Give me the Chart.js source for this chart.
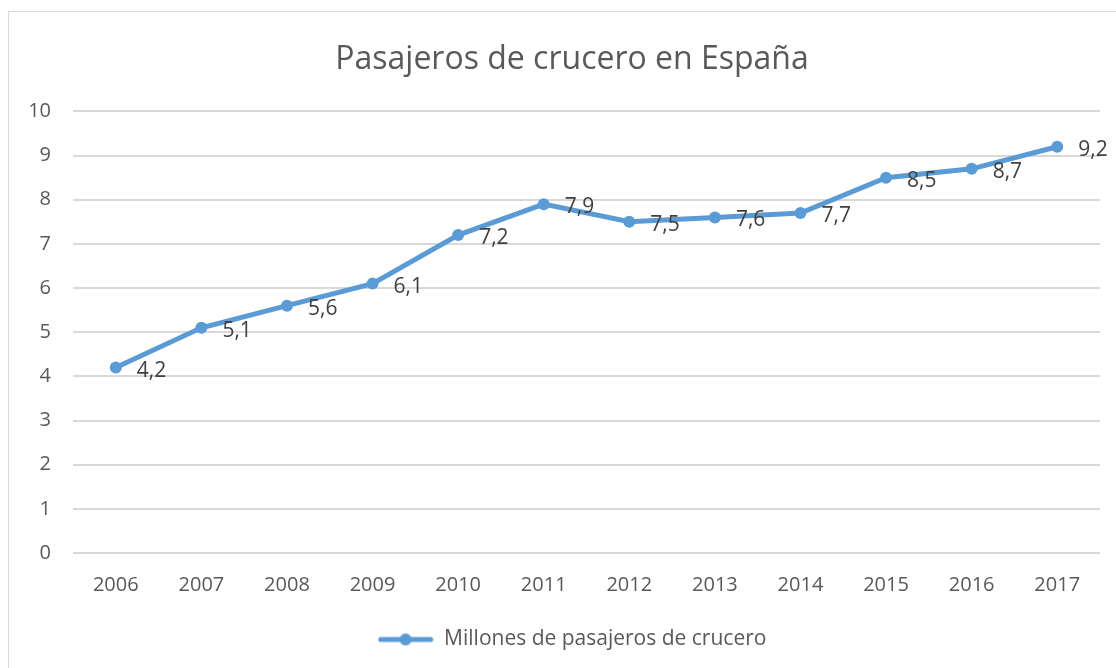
<!DOCTYPE html>
<html>
<head>
<meta charset="utf-8">
<script src="https://cdn.jsdelivr.net/npm/chart.js@4"></script>
<style>
  body { margin: 0; background: #fff; overflow: hidden; }
  #frame { position: absolute; left: 8px; top: 11px; width: 1200px; height: 800px; border: 1px solid #d9d9d9; }
  #wrap { position: absolute; left: 0; top: 0; width: 1116px; height: 668px; }
</style>
</head>
<body>
<div id="frame"></div>
<div id="wrap"><canvas id="chart1" width="1116" height="668"></canvas></div>
<script>
const years = ['2006','2007','2008','2009','2010','2011','2012','2013','2014','2015','2016','2017'];
const pasajeros = [4.2, 5.1, 5.6, 6.1, 7.2, 7.9, 7.5, 7.6, 7.7, 8.5, 8.7, 9.2];
const yTicks = [0, 1, 2, 3, 4, 5, 6, 7, 8, 9, 10];

const blue = '#5B9BD5';
const grey = '#595959';
const font = "'Open Sans', sans-serif";

// legend marker: line with a dot in the middle
const legendMark = document.createElement('canvas');
legendMark.width = 56;
legendMark.height = 14;
const lc = legendMark.getContext('2d');
lc.strokeStyle = blue;
lc.lineWidth = 5;
lc.lineCap = 'round';
lc.beginPath();
lc.moveTo(3, 7);
lc.lineTo(53, 7);
lc.stroke();
lc.fillStyle = blue;
lc.beginPath();
lc.arc(28, 7, 6, 0, Math.PI * 2);
lc.fill();

// values next to each point, comma decimals
const pointLabels = {
    id: 'pointLabels',
    afterDatasetsDraw(chart) {
        const ctx = chart.ctx;
        const meta = chart.getDatasetMeta(0);
        ctx.save();
        ctx.font = '21px ' + font;
        ctx.fillStyle = '#404040';
        ctx.textAlign = 'left';
        ctx.textBaseline = 'middle';
        meta.data.forEach((pt, i) => {
            ctx.fillText(String(pasajeros[i]).replace('.', ','), pt.x + 21, pt.y + 3);
        });
        ctx.restore();
    }
};

const ctx1 = document.getElementById('chart1').getContext('2d');
const chart1 = new Chart(ctx1, {
    type: 'line',
    data: {
        labels: years,
        datasets: [
            {
                label: 'Millones de pasajeros de crucero',
                data: pasajeros,
                borderColor: blue,
                backgroundColor: blue,
                borderWidth: 5,
                tension: 0,
                pointRadius: 6,
                pointBorderWidth: 0,
                pointBackgroundColor: blue
            }
        ]
    },
    options: {
        responsive: false,
        animation: false,
        layout: { padding: { left: 28, right: 0, top: 0, bottom: 8 } },
        plugins: {
            title: {
                display: true,
                text: 'Pasajeros de crucero en España',
                color: grey,
                font: { family: font, size: 32, weight: 'normal' },
                padding: { top: 41, bottom: 32 }
            },
            legend: {
                position: 'bottom',
                labels: {
                    usePointStyle: true,
                    pointStyle: legendMark,
                    pointStyleWidth: 56,
                    color: grey,
                    font: { family: font, size: 21 },
                    padding: 12
                }
            },
            tooltip: { enabled: false }
        },
        scales: {
            x: {
                offset: true,
                grid: { display: false, drawTicks: false },
                border: { display: false },
                ticks: { color: grey, font: { family: font, size: 20 }, padding: 20, maxRotation: 0 }
            },
            y: {
                min: 0,
                max: 10,
                afterFit(scale) { scale.width = 45; },
                afterBuildTicks(scale) { scale.ticks = yTicks.map(v => ({ value: v })); },
                grid: { color: '#d9d9d9', lineWidth: 2, drawTicks: false },
                border: { display: false },
                ticks: { color: grey, font: { family: font, size: 20 }, padding: 22 }
            },
            // empty strip on the right so the plot ends where the reference does
            spacer: {
                type: 'linear',
                position: 'right',
                afterFit(scale) { scale.width = 16; },
                grid: { display: false, drawTicks: false },
                border: { display: false },
                ticks: { display: false }
            }
        }
    },
    plugins: [pointLabels]
});
</script>
</body>
</html>
